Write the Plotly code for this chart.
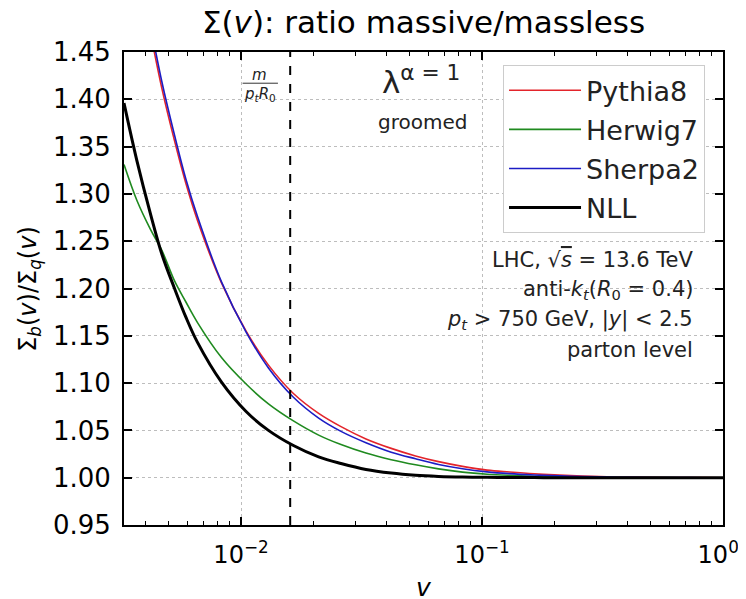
import numpy as np
import plotly.graph_objects as go

# ---- data ----
v_grid = [0.00327, 0.0037, 0.0042, 0.0047, 0.0053, 0.0059, 0.0066, 0.0083, 0.0105, 0.013,
          0.0165, 0.021, 0.026, 0.033, 0.042, 0.053, 0.066, 0.083, 0.105, 0.13,
          0.165, 0.21, 0.26, 0.33, 0.42, 0.53, 0.66, 0.83, 1.0]
nll = [1.396, 1.335, 1.280, 1.236, 1.200, 1.170, 1.143, 1.101, 1.070, 1.050,
       1.034, 1.022, 1.015, 1.0087, 1.0049, 1.0026, 1.0014, 1.0007, 1.0004, 1.0002,
       1.0001, 1.0, 1.0, 1.0, 1.0, 1.0, 1.0, 1.0, 1.0]
herwig7 = [1.331, 1.293, 1.263, 1.240, 1.208, 1.186, 1.164, 1.127, 1.099, 1.078,
           1.060, 1.045, 1.035, 1.026, 1.019, 1.0136, 1.0093, 1.0059, 1.0037, 1.0025,
           1.0016, 1.001, 1.0007, 1.0004, 1.0002, 1.0001, 1.0, 1.0, 1.0]

v_shower = [0.0042, 0.0047, 0.0053, 0.0059, 0.0066, 0.0083, 0.0105, 0.013, 0.0165, 0.021,
            0.026, 0.033, 0.042, 0.053, 0.066, 0.083, 0.105, 0.13, 0.165, 0.21,
            0.26, 0.33, 0.42, 0.53, 0.66, 0.83, 1.0]
pythia8 = [1.472, 1.411, 1.356, 1.3115, 1.272, 1.206, 1.155, 1.119, 1.089, 1.068,
           1.054, 1.041, 1.031, 1.023, 1.017, 1.012, 1.008, 1.006, 1.0041, 1.0027,
           1.0018, 1.001, 1.0006, 1.0003, 1.0002, 1.0001, 1.0]
sherpa2 = [1.48, 1.418, 1.362, 1.316, 1.276, 1.207, 1.154, 1.116, 1.085, 1.063,
           1.049, 1.037, 1.027, 1.020, 1.014, 1.0095, 1.0062, 1.0043, 1.0029, 1.0019,
           1.0012, 1.0007, 1.0004, 1.0002, 1.0001, 1.0, 1.0]

m_over_ptR0 = 0.016
x_range = [0.00327, 1.0]
y_range = [0.95, 1.45]
x_ticks = [0.01, 0.1, 1.0]
x_ticktext = ["10<sup>\u22122</sup>", "10<sup>\u22121</sup>", "10<sup>0</sup>\u2009\u2009"]

FONT = "DejaVu Sans"

fig = go.Figure()
curves = [
    ("Pythia8", v_shower, pythia8, "#e3242b", 1.6),
    ("Herwig7", v_grid, herwig7, "#1f8a1f", 1.6),
    ("Sherpa2", v_shower, sherpa2, "#1c1cc4", 1.6),
    ("NLL", v_grid, nll, "black", 3),
]
for name, xs, ys, col, w in curves:
    fig.add_trace(go.Scatter(x=xs, y=ys, mode="lines", name=name, legendgroup=name,
                             line=dict(color=col, width=w, shape="spline", smoothing=1.0)))

# minor ticks 2..9 in each decade
minor_vals = [k * 10.0 ** e for e in (-3, -2, -1) for k in range(2, 10)]

fig.update_xaxes(type="log", range=[np.log10(x_range[0]), np.log10(x_range[1])],
                 tickmode="array", tickvals=x_ticks, ticktext=x_ticktext,
                 ticks="inside", ticklen=8, tickwidth=1.5, tickcolor="black",
                 showline=True, linewidth=2, linecolor="black", mirror="ticks",
                 showgrid=True, gridcolor="#bdbdbd", griddash="dot", gridwidth=1,
                 minor=dict(ticks="inside", ticklen=4, tickwidth=1, tickcolor="black",
                            tickmode="array", tickvals=minor_vals, showgrid=False),
                 tickfont=dict(size=24, color="black", family=FONT),
                 ticklabelstandoff=7, ticklabeloverflow="allow",
                 zeroline=False, automargin=False)
fig.update_yaxes(range=y_range, dtick=0.05, tick0=0.95, tickformat=".2f",
                 ticks="inside", ticklen=8, tickwidth=1.5, tickcolor="black",
                 showline=True, linewidth=2, linecolor="black", mirror="ticks",
                 showgrid=True, gridcolor="#bdbdbd", griddash="dot", gridwidth=1,
                 tickfont=dict(size=26, color="black", family=FONT),
                 ticklabelstandoff=6, zeroline=False, automargin=False)

# m / (pt R0) marker
fig.add_shape(type="line", x0=m_over_ptR0, x1=m_over_ptR0, y0=0, y1=1, yref="paper",
              line=dict(color="black", width=2, dash="dash"))
fig.add_shape(type="line", xref="paper", yref="paper", x0=0.198, x1=0.257, y0=0.934, y1=0.934,
              line=dict(color="#333333", width=1))

ann = [
    dict(text="<i>m</i>", x=0.227, y=0.952, size=15),
    dict(text="<i>p</i><sub><i>t</i></sub><i>R</i><sub>0</sub>", x=0.227, y=0.91, size=15),
    dict(text="\u03bb<sup>\u03b1 = 1</sup>", x=0.496, y=0.94, size=31),
    dict(text="groomed", x=0.499, y=0.852, size=20),
]
for a in ann:
    fig.add_annotation(text=a["text"], x=a["x"], y=a["y"], xref="paper", yref="paper",
                       xanchor="center", yanchor="middle", showarrow=False,
                       font=dict(size=a["size"], color="#222222", family=FONT))

info = [
    "LHC, \u221a<span style='text-decoration:overline'><i>s</i></span> = 13.6 TeV",
    "anti-<i>k</i><sub><i>t</i></sub>(<i>R</i><sub>0</sub> = 0.4)",
    "<i>p</i><sub><i>t</i></sub> &gt; 750 GeV, |<i>y</i>| &lt; 2.5",
    "parton level",
]
for i, t in enumerate(info):
    fig.add_annotation(text=t, x=0.953, y=0.560 - i * 0.0635, xref="paper", yref="paper",
                       xanchor="right", yanchor="middle", showarrow=False,
                       font=dict(size=21, color="#222222", family=FONT))

# axis titles
fig.add_annotation(text="\u03a3<sub><i>b</i></sub>(<i>v</i>)/\u03a3<sub><i>q</i></sub>(<i>v</i>)",
                   x=-0.158, y=0.5, xref="paper", yref="paper", textangle=-90,
                   xanchor="center", yanchor="middle", showarrow=False,
                   font=dict(size=24, color="black", family=FONT))
fig.add_annotation(text="<i>v</i>", x=0.5, y=-0.133, xref="paper", yref="paper",
                   xanchor="center", yanchor="middle", showarrow=False,
                   font=dict(size=25, color="black", family=FONT))

# the page body adds an 8px margin, so the figure is 8px smaller than the window
fig.update_layout(
    width=738, height=591,
    margin=dict(l=116, r=23, t=44, b=74),
    paper_bgcolor="white", plot_bgcolor="white",
    font=dict(family=FONT, color="black"),
    title=dict(text="\u03a3(<i>v</i>): ratio massive/massless", x=0.5, xref="paper",
               xanchor="center", y=0.976, yref="container", yanchor="middle",
               font=dict(size=31, color="black", family=FONT)),
    legend=dict(x=0.97, y=0.972, xanchor="right", yanchor="top",
                bgcolor="white", bordercolor="#cccccc", borderwidth=1,
                font=dict(size=27, color="#222222", family=FONT),
                itemwidth=72, tracegroupgap=1),
    showlegend=True,
)

fig.write_html("out.html")
